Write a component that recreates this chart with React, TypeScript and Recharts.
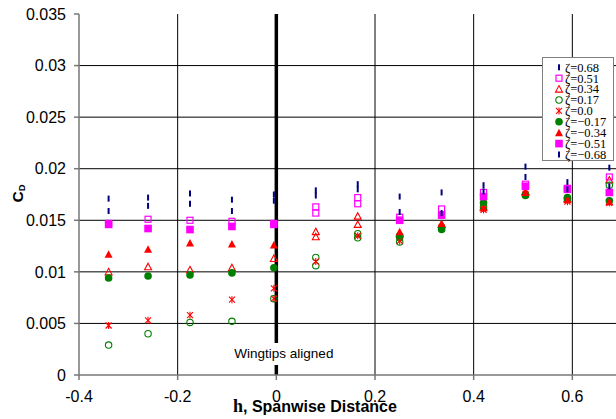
import React from 'react';
import {
  ScatterChart,
  Scatter,
  XAxis,
  YAxis,
  CartesianGrid,
  ReferenceLine,
} from 'recharts';

// spanwise stations (h) where the drag was measured
const spanStations = [-0.34, -0.26, -0.175, -0.09, -0.005, 0.08, 0.165, 0.25, 0.335, 0.42, 0.505, 0.59, 0.675];

type Reading = number | number[] | null;

// C_D readings per station, one list per vertical offset zeta (repeat runs as sub-lists)
const cdZetaP068: Reading[] = [0.0171, 0.0172, 0.0176, 0.017, 0.0175, [0.0179, 0.0174], [0.0185, 0.018], 0.0173, 0.0177, 0.0184, 0.0202, 0.0187, 0.0201];
const cdZetaP051: Reading[] = [0.0147, 0.0151, 0.015, 0.0149, 0.0147, [0.0163, 0.0157], [0.0172, 0.0166], 0.0153, 0.0161, 0.0177, 0.0185, 0.0181, 0.0192];
const cdZetaP034: Reading[] = [0.01, 0.0105, 0.0102, 0.0104, 0.0113, [0.0139, 0.0134], [0.0154, 0.0146], 0.0137, 0.0146, 0.0163, 0.0178, 0.0171, 0.0189];
const cdZetaP017: Reading[] = [0.0029, 0.004, 0.0051, 0.0052, 0.0074, [0.0114, 0.0106], [0.0137, 0.0133], [0.0133, 0.0129], 0.0143, 0.0163, 0.0175, 0.0172, 0.0184];
const cdZeta000: Reading[] = [0.0048, 0.0053, 0.0058, 0.0073, [0.0084, 0.0074], 0.011, 0.0135, 0.013, 0.0143, 0.016, 0.0175, 0.0168, 0.0167];
const cdZetaN017: Reading[] = [0.0094, 0.0096, 0.0097, 0.0099, 0.0104, null, null, 0.0135, 0.0141, 0.0167, 0.0174, 0.0171, 0.0169];
const cdZetaN034: Reading[] = [0.0117, 0.0122, 0.0128, 0.0127, 0.0126, null, null, 0.0139, 0.0147, 0.0162, 0.0177, 0.017, 0.0168];
const cdZetaN051: Reading[] = [0.0146, 0.0142, 0.0141, 0.0144, 0.0146, null, null, 0.015, 0.0155, 0.0173, 0.0183, 0.018, 0.0177];
const cdZetaN068: Reading[] = [0.0159, 0.0164, 0.0166, 0.0159, 0.0169, null, null, 0.0158, 0.0157, 0.0178, 0.0192, 0.018, 0.0183];

const xTicks = [-0.4, -0.2, 0, 0.2, 0.4, 0.6];
const yTicks = [0, 0.005, 0.01, 0.015, 0.02, 0.025, 0.03, 0.035];
const yGridValues = [0.005, 0.01, 0.015, 0.02, 0.025, 0.03];
const xGridValues = [-0.2, 0.2, 0.4, 0.6];

type MarkerKind = 'dash' | 'openSquare' | 'openTriangle' | 'openCircle' | 'star' | 'dot' | 'triangle' | 'square';

const seriesList: { name: string; values: Reading[]; marker: MarkerKind }[] = [
  { name: 'ζ=0.68', values: cdZetaP068, marker: 'dash' },
  { name: 'ζ=0.51', values: cdZetaP051, marker: 'openSquare' },
  { name: 'ζ=0.34', values: cdZetaP034, marker: 'openTriangle' },
  { name: 'ζ=0.17', values: cdZetaP017, marker: 'openCircle' },
  { name: 'ζ=0.0', values: cdZeta000, marker: 'star' },
  { name: 'ζ=−0.17', values: cdZetaN017, marker: 'dot' },
  { name: 'ζ=−0.34', values: cdZetaN034, marker: 'triangle' },
  { name: 'ζ=−0.51', values: cdZetaN051, marker: 'square' },
  { name: 'ζ=−0.68', values: cdZetaN068, marker: 'dash' },
];

const toPoints = (values: Reading[]) =>
  values.flatMap((v, i) => {
    if (v === null) return [];
    const list = Array.isArray(v) ? v : [v];
    return list.map(y => ({ x: spanStations[i], y }));
  });

const NAVY = '#000080';
const MAGENTA = '#ff00ff';
const RED = '#ff0000';
const GREEN = '#008000';
const SANS = '"Liberation Sans", Arial, sans-serif';
const SERIF = '"Liberation Serif", "Times New Roman", serif';

const Marker: React.FC<{ kind: MarkerKind; cx: number; cy: number }> = ({ kind, cx, cy }) => {
  switch (kind) {
    case 'dash':
      return <rect x={cx - 1} y={cy - 3} width={2} height={6} fill={NAVY} />;
    case 'openSquare':
      return <rect x={cx - 3} y={cy - 3} width={6} height={6} fill="none" stroke={MAGENTA} strokeWidth={1.2} />;
    case 'square':
      return <rect x={cx - 3.8} y={cy - 3.8} width={7.6} height={7.6} fill={MAGENTA} />;
    case 'openTriangle':
      return (
        <polygon
          points={`${cx},${cy - 3.5} ${cx + 3.5},${cy + 3} ${cx - 3.5},${cy + 3}`}
          fill="none"
          stroke={RED}
          strokeWidth={1.1}
        />
      );
    case 'triangle':
      return <polygon points={`${cx},${cy - 4} ${cx + 4},${cy + 3.5} ${cx - 4},${cy + 3.5}`} fill={RED} />;
    case 'openCircle':
      return <circle cx={cx} cy={cy} r={3.2} fill="none" stroke={GREEN} strokeWidth={1.1} />;
    case 'dot':
      return <circle cx={cx} cy={cy} r={3.8} fill={GREEN} />;
    case 'star':
      return (
        <g stroke={RED} strokeWidth={1.1}>
          <line x1={cx - 3} y1={cy - 3} x2={cx + 3} y2={cy + 3} />
          <line x1={cx - 3} y1={cy + 3} x2={cx + 3} y2={cy - 3} />
          <line x1={cx} y1={cy - 3.5} x2={cx} y2={cy + 3.5} />
        </g>
      );
    default:
      return null;
  }
};

const WingtipLabel = (props: any) => {
  const vb = props.viewBox || {};
  const x = vb.x ?? 275;
  const bottom = (vb.y ?? 14) + (vb.height ?? 361);
  return (
    <g>
      <rect x={x - 44} y={bottom - 32} width={104} height={22} fill="#fff" />
      <text x={x - 42} y={bottom - 17} fontSize={13.5} fontFamily={SANS} fill="#000">
        Wingtips aligned
      </text>
    </g>
  );
};

const YTitle = (props: any) => {
  const vb = props.viewBox || {};
  const cy = (vb.y ?? 14) + (vb.height ?? 361) / 2 - 1;
  const bx = 23;
  return (
    <text
      x={bx}
      y={cy}
      transform={`rotate(-90, ${bx}, ${cy})`}
      textAnchor="middle"
      fontFamily={SANS}
      fontWeight="bold"
      fontSize={15.5}
      fill="#000"
    >
      C<tspan fontSize={9.5} dy={1.5}>D</tspan>
    </text>
  );
};

const XTitle = (props: any) => {
  const vb = props.viewBox || {};
  const x = (vb.x ?? 79) + 154;
  const y = (vb.y ?? 375) + 37;
  return (
    <text x={x} y={y} fontFamily={SANS} fontWeight="bold" fontSize={16} fill="#000">
      <tspan fontFamily={SERIF} fontSize={18}>h</tspan>
      <tspan>, Spanwise Distance</tspan>
    </text>
  );
};

const LegendBox: React.FC = () => (
  <svg
    width={72}
    height={105}
    style={{ position: 'absolute', left: 542, top: 57 }}
  >
    <rect x={0.5} y={0.5} width={71} height={103} fill="#fff" stroke="#808080" strokeWidth={1} />
    {seriesList.map((s, i) => {
      const cy = 10.3 + i * 10.9;
      return (
        <g key={s.name}>
          <Marker kind={s.marker} cx={17} cy={cy} />
          <text x={23} y={cy + 4.3} fontFamily={SERIF} fontSize={12.5} fill="#000">
            {s.name}
          </text>
        </g>
      );
    })}
  </svg>
);

export default function App() {
  return (
    <div
      style={{
        position: 'fixed',
        left: 0,
        top: 0,
        width: 616,
        height: 419,
        overflow: 'hidden',
        background: '#fff',
      }}
    >
      <ScatterChart width={700} height={419} margin={{ top: 14, right: 29, left: 0, bottom: 0 }}>
        <CartesianGrid
          horizontalValues={yGridValues}
          verticalValues={xGridValues}
          stroke="#000"
          strokeWidth={1}
        />
        <XAxis
          type="number"
          dataKey="x"
          domain={[-0.4, 0.8]}
          ticks={xTicks}
          interval={0}
          height={44}
          tickSize={5}
          tickMargin={11}
          stroke="#777"
          strokeWidth={1.5}
          tick={{ fill: '#000', fontSize: 16, fontFamily: SANS }}
          label={<XTitle />}
        />
        <YAxis
          type="number"
          dataKey="y"
          domain={[0, 0.035]}
          ticks={yTicks}
          interval={0}
          width={79}
          tickSize={5}
          tickMargin={8}
          stroke="#777"
          strokeWidth={1.5}
          tick={{ fill: '#000', fontSize: 16, fontFamily: SANS }}
          label={<YTitle />}
        />
        {seriesList.map(s => (
          <Scatter
            key={s.name}
            name={s.name}
            data={toPoints(s.values)}
            isAnimationActive={false}
            shape={(p: any) => <Marker kind={s.marker} cx={p.cx} cy={p.cy} />}
          />
        ))}
        <ReferenceLine x={0} stroke="#000" strokeWidth={3.5} label={<WingtipLabel />} />
      </ScatterChart>
      <LegendBox />
    </div>
  );
}
